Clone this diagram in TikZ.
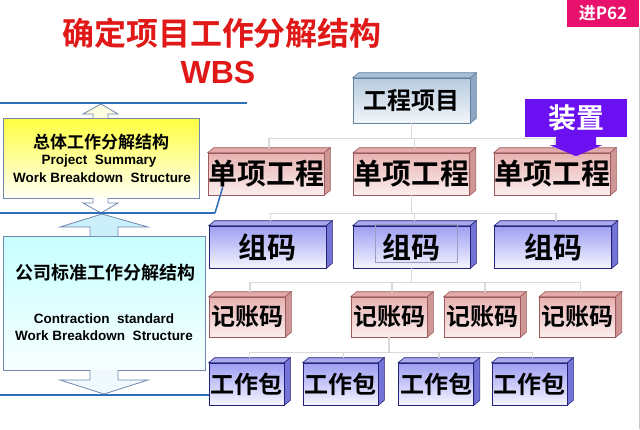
\documentclass[tikz,border=0pt]{standalone}
\usepackage{fontspec}
\setmainfont{Liberation Sans}
\newfontfamily\cjk{Noto Sans CJK SC}[BoldFont={Noto Sans CJK SC Bold}]
\usepackage{xcolor}
\usetikzlibrary{calc,backgrounds}
\definecolor{wred}{HTML}{E01818}
\definecolor{wline}{HTML}{2F6EBA}
\definecolor{wconn}{HTML}{D9D9D9}
\definecolor{wpanel}{HTML}{7088B0}
\definecolor{pktop}{HTML}{E8B2B2}
\definecolor{pkbot}{HTML}{FBEEEE}
\definecolor{pkface}{HTML}{E2AAAA}
\definecolor{pkside}{HTML}{CF9696}
\definecolor{pkedge}{HTML}{9E5A5A}
\definecolor{bltop}{HTML}{9E9EF2}
\definecolor{blbot}{HTML}{F5F5FF}
\definecolor{blface}{HTML}{A8A8EE}
\definecolor{blside}{HTML}{7474D6}
\definecolor{bledge}{HTML}{22227A}
\definecolor{gytop}{HTML}{B6CADE}
\definecolor{gybot}{HTML}{F2F6FA}
\definecolor{gyface}{HTML}{AABFD6}
\definecolor{gyside}{HTML}{8EA6C2}
\definecolor{gyedge}{HTML}{6483A3}
\definecolor{wviolet}{HTML}{6B10F0}
\definecolor{wbadge}{HTML}{E8126C}
\newcommand{\fsz}[1]{\fontsize{#1}{#1}\selectfont}
% top and right faces of a 3-d box
\newcommand{\boxdepth}[4]{%
  \filldraw[fill=#2, draw=#4, line width=0.6pt] (#1.north west) -- ++(6,-5)
     -- ($(#1.north east)+(6,-5)$) -- (#1.north east) -- cycle;
  \filldraw[fill=#3, draw=#4, line width=0.6pt] (#1.north east) -- ++(6,-5)
     -- ($(#1.south east)+(6,-5)$) -- (#1.south east) -- cycle;}

\begin{document}
\begin{tikzpicture}[x=1pt, y=-1pt,
  box/.style={inner sep=0pt, line width=0.6pt, font=\cjk\bfseries\fsz{29}},
  gybox/.style={box, draw=gyedge, top color=gytop, bottom color=gybot,
     minimum width=117pt, minimum height=45pt, font=\cjk\bfseries\fsz{24}},
  pkbox/.style={box, draw=pkedge, top color=pktop, bottom color=pkbot,
     minimum width=116pt, minimum height=42pt},
  blbox/.style={box, draw=bledge, top color=bltop, bottom color=blbot,
     minimum width=117pt, minimum height=42pt},
  pksmall/.style={pkbox, minimum width=76pt, minimum height=40pt, font=\cjk\bfseries\fsz{24}},
  blsmall/.style={blbox, minimum width=75pt, minimum height=42pt, font=\cjk\bfseries\fsz{24}},
  conn/.style={wconn, line width=1.5pt},
  blueline/.style={wline, line width=2.5pt},
  panel/.style={draw=wpanel, line width=0.8pt, inner sep=0pt},
  blockarrow/.style={draw=wpanel, line width=0.8pt, line join=miter},
  latin/.style={font=\bfseries\fsz{13.5}}]
\useasboundingbox (0,0) rectangle (640,429);
\begin{scope}[on background layer]
\fill[white] (0,0) rectangle (640,429);
\end{scope}
\draw[wconn!80!gray, line width=0.8pt] (639,28) -- (639,429);

% ---------- title ----------
\node[text=wred, font=\cjk\bfseries\fsz{32}] (ttl) at (222,33) {确定项目工作分解结构};
\node[text=wred, font=\bfseries\fsz{32}] (wbs) at (218,72) {WBS};
\node[fill=wbadge, text=white, font=\cjk\bfseries\fsz{17}, inner sep=0pt,
   minimum width=72pt, minimum height=27pt] (pg) at (603,13) {进P62};

% ---------- left: the two levels ----------
\node[panel, top color=yellow!75!white, bottom color=yellow!4!white,
   minimum width=196pt, minimum height=80pt] (ys) at (101,158) {};
\node[font=\cjk\bfseries\fsz{17}] (ys1) at (101,142) {总体工作分解结构};
\node[latin] (ys2) at (99,161) {Project\ \ Summary};
\node[latin] (ys3) at (102,178) {Work Breakdown\ \ Structure};
\node[panel, top color=cyan!22!white, bottom color=cyan!3!white,
   minimum width=202pt, minimum height=134pt] (cs) at (104,303) {};
\node[font=\cjk\bfseries\fsz{18}] (cs1) at (105,273) {公司标准工作分解结构};
\node[latin] (cs2) at (104,319) {Contraction\ \ standard};
\node[latin] (cs3) at (104,336) {Work Breakdown\ \ Structure};
% block arrows
\filldraw[blockarrow, fill=yellow!12!white] (93,118) -- (93,114) -- (83,114) -- (101,104)
   -- (118,114) -- (108,114) -- (108,118);
\filldraw[blockarrow, fill=white] (93,198) -- (93,203) -- (83,203) -- (101,213)
   -- (118,203) -- (108,203) -- (108,198);
\filldraw[blockarrow, fill=cyan!20!white] (90,236) -- (90,227) -- (60,227) -- (102,214)
   -- (148,227) -- (118,227) -- (118,236);
\filldraw[blockarrow, fill=cyan!6!white] (90,370) -- (90,380) -- (60,380) -- (104,394)
   -- (148,380) -- (118,380) -- (118,370);

% ---------- right: the tree ----------
\node[gybox] (p0) at (411.5,100.5) {工程项目};
\foreach \n/\x in {s1/266, s2/411.5, s3/552}
  \node[pkbox] (\n) at (\x,174) {单项工程};
\foreach \n/\x in {g1/267.5, g2/411.5, g3/553}
  \node[blbox] (\n) at (\x,247) {组码};
\foreach \n/\x in {k1/247, k2/389, k3/482, k4/577.5}
  \node[pksmall] (\n) at (\x,317) {记账码};
\foreach \n/\x in {w1/246.5, w2/340.5, w3/436, w4/529.5}
  \node[blsmall] (\n) at (\x,384) {工作包};
\begin{scope}[on background layer]
\boxdepth{p0}{gyface}{gyside}{gyedge}
\foreach \n in {s1,s2,s3,k1,k2,k3,k4}{\boxdepth{\n}{pkface}{pkside}{pkedge}}
\foreach \n in {g1,g2,g3,w1,w2,w3,w4}{\boxdepth{\n}{blface}{blside}{bledge}}
\end{scope}
\draw[bledge!45, line width=0.8pt] (375,224) rectangle (457,262);
\foreach \n in {s1,s2,s3}
  \draw[conn] (p0.south) -- ++(0,15) -| ($(\n.north)+(3,-5)$);
\foreach \n in {g1,g2,g3}
  \draw[conn] (s2.south) -- ++(0,18) -| ($(\n.north)+(3,-5)$);
\foreach \n in {k1,k2,k3,k4}
  \draw[conn] (g2.south) -- ++(0,14) -| ($(\n.north)+(3,-5)$);
\foreach \n in {w1,w2,w3,w4}
  \draw[conn] (k2.south) -- ++(0,15) -| ($(\n.north)+(3,-5)$);

% ---------- device callout ----------
\node[fill=wviolet, text=white, font=\cjk\bfseries\fsz{28}, inner sep=0pt,
   minimum width=102pt, minimum height=38pt] (dev) at (576,118) {装置};
\fill[wviolet] ($(dev.south)+(-20,-1)$) -- ++(0,9) -- ++(-6,0) -- ($(dev.south)+(0,19)$)
   -- ($(dev.south)+(26,8)$) -- ++(-6,0) -- ++(0,-9) -- cycle;

% ---------- blue level lines ----------
\coordinate (l1a) at (0,103);
\coordinate (l1b) at (247,103);
\coordinate (l2a) at (0,213);
\coordinate (l2b) at (215,213);
\coordinate (l3a) at (0,395);
\draw[blueline] (l1a) -- (l1b);
\draw[blueline] (l2a) -- (l2b);
\draw[wline, line width=1.5pt] (l2b) -- ($(s1.south west)+(15,-8)$);
\draw[blueline] (l3a) -- (w1.west |- l3a);
\end{tikzpicture}
\end{document}
